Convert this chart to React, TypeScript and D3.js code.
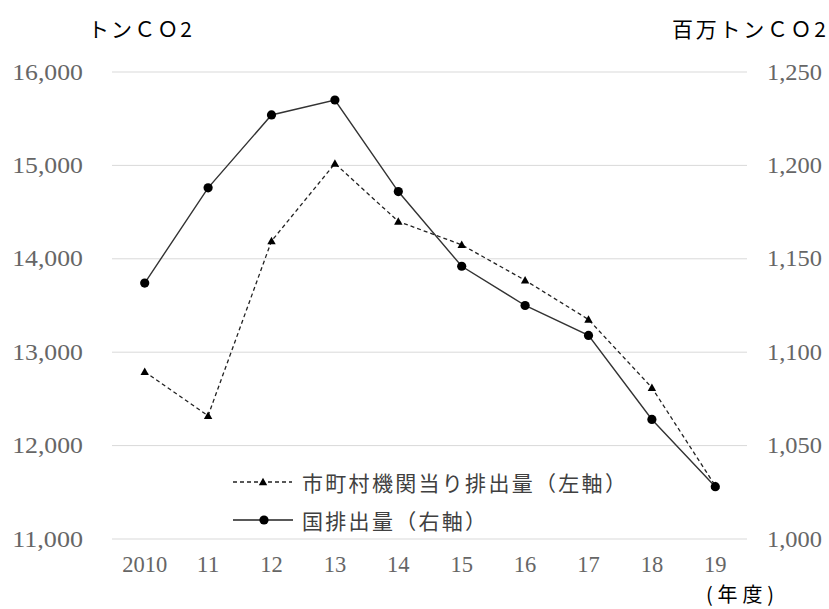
import React from "react";
import * as d3 from "d3";

const categories = ["2010", "11", "12", "13", "14", "15", "16", "17", "18", "19"];
const municipal = [12790, 12320, 14190, 15020, 14400, 14150, 13770, 13350, 12620, 11570];
const national = [1137, 1188, 1227, 1235, 1186, 1146, 1125, 1109, 1064, 1028];
const leftTicks = [11000, 12000, 13000, 14000, 15000, 16000];
const rightTicks = [1000, 1050, 1100, 1150, 1200, 1250];
const leftTitle = "トンＣＯ2";
const rightTitle = "百万トンＣＯ2";
const xTitle = "(年度)";
const legendMunicipal = "市町村機関当り排出量（左軸）";
const legendNational = "国排出量（右軸）";

const W = 829;
const H = 609;
const NUM_FONT = "'Liberation Serif', serif";
const JP_FONT = "'Noto Sans CJK JP', sans-serif";

export default function App() {
  const x = d3.scalePoint<string>().domain(categories).range([113, 747]).padding(0.5);
  const yL = d3.scaleLinear().domain([11000, 16000]).range([539, 72]);
  const yR = d3.scaleLinear().domain([1000, 1250]).range([539, 72]);
  const fmt = d3.format(",");

  const lineL = d3
    .line<number>()
    .x((_, i) => x(categories[i]) as number)
    .y((d) => yL(d));
  const lineR = d3
    .line<number>()
    .x((_, i) => x(categories[i]) as number)
    .y((d) => yR(d));

  const tri = (cx: number, cy: number) =>
    `M${cx},${cy - 4.2}L${cx + 4.2},${cy + 3.2}L${cx - 4.2},${cy + 3.2}Z`;

  return (
    <svg
      width={W}
      height={H}
      style={{ position: "absolute", left: 0, top: 0, background: "#fff" }}
    >
      <rect width={W} height={H} fill="#fff" />
      {/* gridlines */}
      {leftTicks.map((t) => (
        <line key={t} x1={112} x2={747} y1={yL(t)} y2={yL(t)} stroke="#d9d9d9" strokeWidth={1} />
      ))}
      {/* left tick labels */}
      {leftTicks.map((t) => {
        const s = fmt(t);
        return (
          <text
            key={"l" + t}
            x={83}
            y={yL(t)}
            textAnchor="end"
            dominantBaseline="central"
            fontFamily={NUM_FONT}
            fontSize={23}
            fill="#666"
            textLength={s.length * 11.8}
            lengthAdjust="spacingAndGlyphs"
          >
            {s}
          </text>
        );
      })}
      {/* right tick labels */}
      {rightTicks.map((t) => {
        const s = fmt(t);
        return (
          <text
            key={"r" + t}
            x={767}
            y={yR(t)}
            textAnchor="start"
            dominantBaseline="central"
            fontFamily={NUM_FONT}
            fontSize={23}
            fill="#666"
            textLength={s.length * 11}
            lengthAdjust="spacingAndGlyphs"
          >
            {s}
          </text>
        );
      })}
      {/* x labels */}
      {categories.map((c) => (
        <text
          key={"x" + c}
          x={x(c) as number}
          y={564}
          textAnchor="middle"
          dominantBaseline="central"
          fontFamily={NUM_FONT}
          fontSize={23}
          fill="#666"
          textLength={c.length * 11.25}
          lengthAdjust="spacingAndGlyphs"
        >
          {c}
        </text>
      ))}
      {/* axis titles */}
      <text
        x={88}
        y={28}
        dominantBaseline="central"
        fontFamily={JP_FONT}
        fontSize={21}
        fill="#000"
        textLength={104}
        lengthAdjust="spacing"
      >
        {leftTitle}
      </text>
      <text
        x={672}
        y={28}
        dominantBaseline="central"
        fontFamily={JP_FONT}
        fontSize={21}
        fill="#000"
        textLength={154}
        lengthAdjust="spacing"
      >
        {rightTitle}
      </text>
      <text
        x={706}
        y={593}
        textAnchor="start"
        dominantBaseline="central"
        fontFamily={JP_FONT}
        fontSize={20}
        fill="#000"
        textLength={68}
        lengthAdjust="spacing"
      >
        {xTitle}
      </text>
      {/* series lines */}
      <path
        d={lineL(municipal) || ""}
        fill="none"
        stroke="#222"
        strokeWidth={1.3}
        strokeDasharray="4,3"
      />
      <path d={lineR(national) || ""} fill="none" stroke="#333" strokeWidth={1.4} />
      {municipal.map((v, i) => (
        <path key={"t" + i} d={tri(x(categories[i]) as number, yL(v))} fill="#000" />
      ))}
      {national.map((v, i) => (
        <circle key={"c" + i} cx={x(categories[i]) as number} cy={yR(v)} r={4.6} fill="#000" />
      ))}
      {/* legend */}
      <g>
        <line x1={233} x2={292} y1={482} y2={482} stroke="#222" strokeWidth={1.3} strokeDasharray="4,3" />
        <path d={tri(263, 482)} fill="#000" />
        <text
          x={302}
          y={482}
          dominantBaseline="central"
          fontFamily={JP_FONT}
          fontSize={21}
          fill="#404040"
          letterSpacing={2.3}
        >
          {legendMunicipal}
        </text>
        <line x1={233} x2={293} y1={520} y2={520} stroke="#222" strokeWidth={1.4} />
        <circle cx={264} cy={520} r={4.6} fill="#000" />
        <text
          x={302}
          y={520}
          dominantBaseline="central"
          fontFamily={JP_FONT}
          fontSize={21}
          fill="#404040"
          letterSpacing={2.3}
        >
          {legendNational}
        </text>
      </g>
    </svg>
  );
}
